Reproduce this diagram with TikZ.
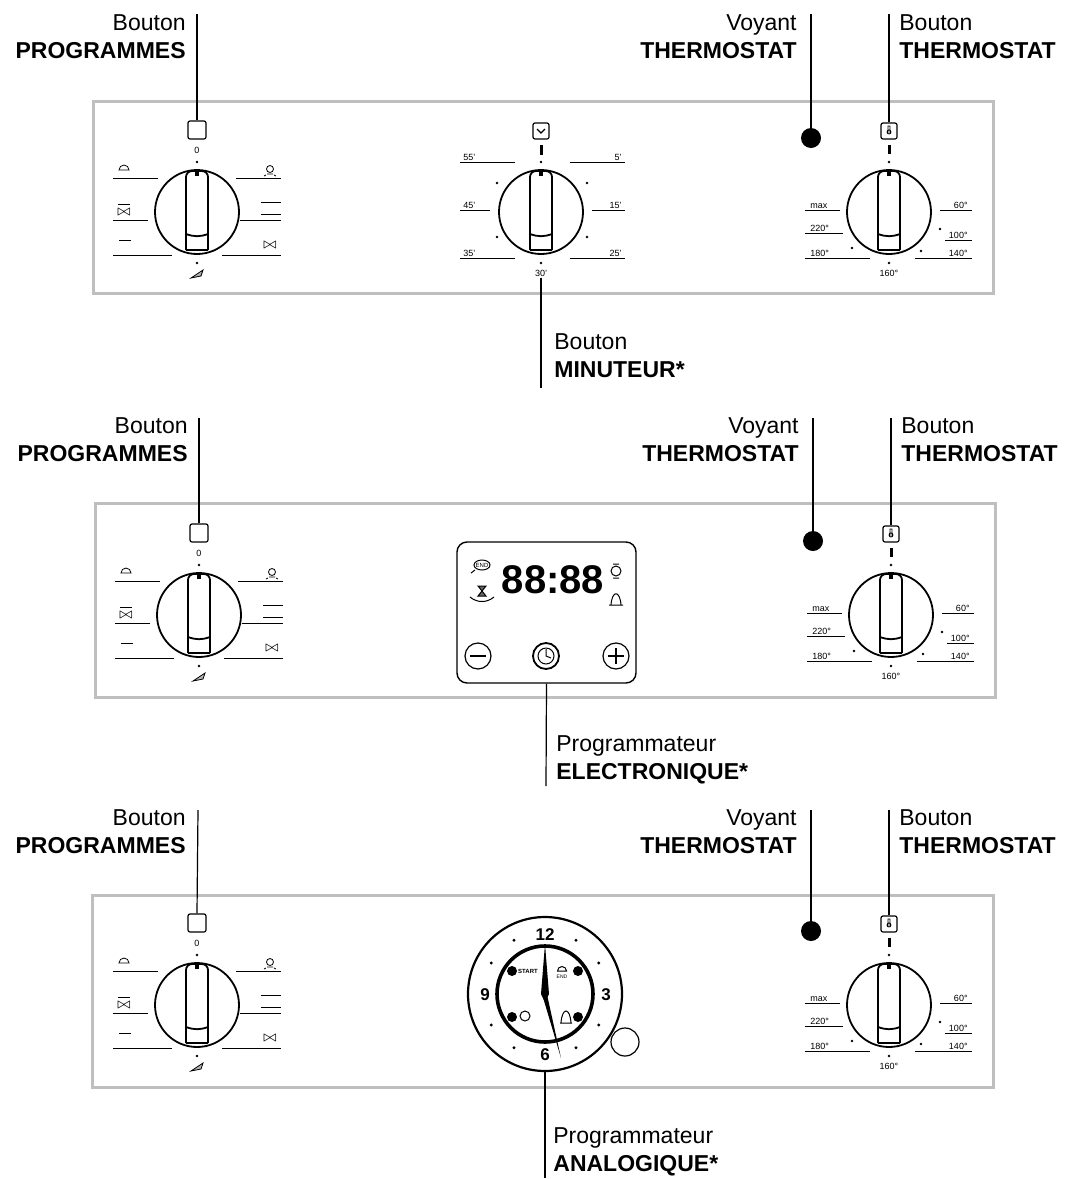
\documentclass[tikz,border=0pt]{standalone}
\usepackage{fontspec}
\setmainfont{Liberation Sans}
\usepackage{tikz}
\usetikzlibrary{positioning}

\tikzset{
  panel/.style={draw=black!25, line width=1.5pt},
  lead/.style={line width=0.6pt},
  knob/.style={circle, draw, line width=0.9pt, minimum size=42pt, inner sep=0pt},
  tick/.style={line width=0.5pt},
  tlab/.style={font=\fontsize{4.5}{5}\selectfont, inner sep=0.5pt},
  lab/.style={font=\fontsize{11.5}{13}\selectfont, inner sep=0pt, align=right},
  labl/.style={font=\fontsize{11.5}{13}\selectfont, inner sep=0pt, align=left},
  dot/.style={circle, fill, inner sep=0pt, minimum size=1.3pt},
}

% knob with its handle: name, x, y
\newcommand\knobat[3]{
  \node[knob] (#1) at (#2,#3) {};
  \draw[line width=0.9pt, rounded corners=3] (#2-11,#3+38) -- (#2-11,#3-41) -- (#2+11,#3-41) -- (#2+11,#3+38);
  \draw[line width=0.9pt] (#2-11,#3+22) to[bend right=20] (#2+11,#3+22);
  \draw[line width=0.6pt] (#2-11,#3+38) -- (#2+11,#3+38);
  \fill (#2-2,#3-41) rectangle (#2+2,#3-36);
}

% programmes knob: prefix, x, y
\newcommand\progpart[3]{
  \begin{scope}[shift={(#2,#3)}]
    \knobat{#1k}{0}{0}
    \node[draw, line width=0.6pt, minimum size=9pt, inner sep=0pt, rounded corners=1pt] (#1sq) at (0,-82) {};
    \node[tlab] at (0,-62) {0};
    \node[dot] at (0,-50) {};
    \node[dot] at (0,51) {};
    % left marks
    \draw[tick] (-84,-34) -- (-39,-34);
    \draw[tick] (-84,8) -- (-49,8);
    \draw[tick] (-84,43) -- (-25,43);
    \draw[tick] (-78,28) -- (-66,28);
    \draw[line width=0.4pt] (-78,-42) arc(180:360:5) -- cycle;
    \draw[line width=0.4pt] (-79,-8) -- (-67,-8);
    \node[font=\fontsize{7}{7}\selectfont, inner sep=0pt] at (-73,0) {$\bowtie$};
    % right marks
    \draw[tick] (39,-34) -- (84,-34);
    \draw[tick] (43,8) -- (84,8);
    \draw[tick] (25,43) -- (84,43);
    \draw[tick] (64,-10) -- (84,-10);
    \draw[tick] (64,2) -- (84,2);
    \draw[line width=0.4pt] (73,-43) circle[radius=3.5];
    \draw[line width=0.4pt] (70,-38) -- (76,-38) (67,-36) -- (69,-37) (79,-36) -- (77,-37);
    \node[font=\fontsize{7}{7}\selectfont, inner sep=0pt] at (73,33) {$\bowtie$};
    \draw[line width=0.4pt, fill=black!30] (-6,66) -- (6,58) -- (4,64) -- cycle;
  \end{scope}
}

% thermostat knob and lamp: prefix, x, y
\newcommand\thermpart[3]{
  \begin{scope}[shift={(#2,#3)}]
    \knobat{#1k}{0}{0}
    \node[draw, line width=0.6pt, minimum size=8pt, inner sep=0pt, rounded corners=1pt] (#1sq) at (0,-81) {};
    \draw[line width=0.4pt] (0,-80) circle[radius=2] (-1,-78) -- (-1,-86) -- (1,-86) -- (1,-78);
    \fill (-1.5,-67) rectangle (1.5,-58);
    \node[dot] at (0,-50) {};
    \node[circle, fill, minimum size=10pt, inner sep=0pt] (#1lamp) at (-78,-74) {};
    \draw[tick] (-84,-2) -- (-49,-2);
    \node[tlab, above right] at (-80,-2) {max};
    \draw[tick] (-84,21) -- (-46,21);
    \node[tlab, above right] at (-80,21) {220°};
    \draw[tick] (-84,46) -- (-19,46);
    \node[tlab, above right] at (-80,46) {180°};
    \draw[tick] (51,-2) -- (83,-2);
    \node[tlab, above left] at (80,-2) {60°};
    \draw[tick] (56,28) -- (83,28);
    \node[tlab, above left] at (80,28) {100°};
    \draw[tick] (26,46) -- (83,46);
    \node[tlab, above left] at (80,46) {140°};
    \node[dot] at (51,17) {};
    \node[dot] at (-37,36) {};
    \node[dot] at (32,39) {};
    \node[dot] at (0,51) {};
    \node[tlab] at (0,61) {160°};
  \end{scope}
}

% callout labels: name, x, y, first line, second line
\newcommand\calloutR[5]{
  \node[lab, anchor=north east] (#1) at (#2,#3) {#4\\[1pt]\textbf{#5}};
}
\newcommand\calloutL[5]{
  \node[labl, anchor=north west] (#1) at (#2,#3) {#4\\[1pt]\textbf{#5}};
}

\begin{document}
\begin{tikzpicture}[x=0.5pt, y=-0.5pt]
  \useasboundingbox (0,0) rectangle (1073,1179);

  % ---------- panel 1: minuteur
  \draw[panel] (93,101) rectangle (993,293);
  \progpart{a}{197}{212}
  \thermpart{c}{889}{212}
  \knobat{bk}{541}{212}
  \node[draw, line width=0.6pt, minimum size=8pt, inner sep=0pt, rounded corners=1pt] (bsq) at (541,131) {};
  \draw[line width=0.6pt] (537,129) -- (541,133) -- (545,129);
  \fill (539.5,145) rectangle (542.5,155);
  \node[dot] at (541,162) {};
  \node[dot] at (541,263) {};
  \node[tlab] (bm) at (541,273) {30'};
  \foreach \xa/\xb/\yy/\tx/\side in {460/515/162/55'/right, 460/490/210/45'/right, 460/515/258/35'/right}
    {\draw[tick] (\xa,\yy) -- (\xb,\yy); \node[tlab, above \side] at (\xa+2,\yy) {\tx};}
  \foreach \xa/\xb/\yy/\tx in {570/625/162/5', 592/625/210/15', 570/625/258/25'}
    {\draw[tick] (\xa,\yy) -- (\xb,\yy); \node[tlab, above left] at (\xb-2,\yy) {\tx};}
  \foreach \px/\py in {497/183, 587/183, 497/237, 587/237} \node[dot] at (\px,\py) {};

  \calloutR{l1}{186}{14}{Bouton}{PROGRAMMES}
  \calloutR{l2}{797}{14}{Voyant}{THERMOSTAT}
  \calloutL{l3}{899}{14}{Bouton}{THERMOSTAT}
  \calloutL{l4}{554}{333}{Bouton}{MINUTEUR*}
  \coordinate (t1) at (197,14);
  \coordinate (t2) at (811,14);
  \coordinate (t3) at (889,14);
  \coordinate (t4) at (541,388);
  \draw[lead] (t1) -- (asq.north);
  \draw[lead] (t2) -- (clamp.north);
  \draw[lead] (t3) -- (csq.north);
  \draw[lead] (bm.south) -- (t4);

  % ---------- panel 2: programmateur electronique
  \draw[panel] (95,503) rectangle (995,697);
  \progpart{d}{199}{615}
  \thermpart{f}{891}{615}
  \node[draw, line width=0.7pt, rounded corners=5pt, minimum width=89.5pt, minimum height=70.5pt, inner sep=0pt] (disp) at (546.5,612.5) {};
  \node[font=\fontsize{20}{20}\bfseries\selectfont, inner sep=0pt] (digits) at (553,580) {88:88};
  \draw[line width=0.5pt] (482,565) ellipse[x radius=8, y radius=5];
  \node[font=\fontsize{3}{3}\selectfont, inner sep=0pt] at (482,565) {END};
  \draw[line width=0.5pt] (471,573) -- (475,570);
  \draw[line width=0.5pt, fill=black!60] (478,586) -- (486,586) -- (478,596) -- (486,596) -- cycle;
  \draw[line width=0.5pt] (470,597) to[bend right=40] (494,597);
  \draw[line width=0.5pt] (616,571) circle[radius=5] (613,564) -- (619,564) (613,578) -- (619,578);
  \draw[line width=0.5pt] (609,605) -- (623,605) (611,605) .. controls (612,590) and (620,590) .. (621,605);
  \node[circle, draw, line width=0.6pt, minimum size=13pt, inner sep=0pt] (minus) at (478,656) {};
  \draw[line width=0.6pt] (470,656) -- (486,656);
  \node[circle, draw, line width=0.9pt, minimum size=13pt, inner sep=0pt] (clk) at (546,656) {};
  \draw[line width=0.5pt] (546,656) circle[radius=8] (546,649) -- (546,656) -- (551,658);
  \node[circle, draw, line width=0.6pt, minimum size=13pt, inner sep=0pt] (plus) at (616,656) {};
  \draw[line width=0.6pt] (608,656) -- (624,656) (616,648) -- (616,664);

  \calloutR{l5}{188}{417}{Bouton}{PROGRAMMES}
  \calloutR{l6}{799}{417}{Voyant}{THERMOSTAT}
  \calloutL{l7}{901}{417}{Bouton}{THERMOSTAT}
  \calloutL{l8}{556}{735}{Programmateur}{ELECTRONIQUE*}
  \coordinate (t5) at (199,418);
  \coordinate (t6) at (813,418);
  \coordinate (t7) at (891,418);
  \coordinate (t8) at (546,786);
  \draw[lead] (t5) -- (dsq.north);
  \draw[lead] (t6) -- (flamp.north);
  \draw[lead] (t7) -- (fsq.north);
  \draw[lead] (disp.south) -- (t8);

  % ---------- panel 3: programmateur analogique
  \draw[panel] (92,895) rectangle (993,1087);
  \progpart{g}{197}{1005}
  \thermpart{i}{889}{1005}
  \node[circle, draw, line width=1.1pt, minimum size=77pt, inner sep=0pt] (dial) at (545,994) {};
  \draw[line width=1.8pt] (545,994) circle[radius=48];
  \node[font=\fontsize{8.5}{8.5}\rmfamily\bfseries\selectfont, inner sep=0pt] at (545,935) {12};
  \node[font=\fontsize{8.5}{8.5}\rmfamily\bfseries\selectfont, inner sep=0pt] at (606,995) {3};
  \node[font=\fontsize{8.5}{8.5}\rmfamily\bfseries\selectfont, inner sep=0pt] at (545,1055) {6};
  \node[font=\fontsize{8.5}{8.5}\rmfamily\bfseries\selectfont, inner sep=0pt] at (485,995) {9};
  \foreach \ang in {30,60,120,150,210,240,300,330}
    \node[dot, minimum size=1.6pt] at ([shift={(\ang:62)}]545,994) {};
  \foreach \px/\py in {512/971, 578/971, 512/1017, 578/1017}
    \node[circle, fill, minimum size=5pt, inner sep=0pt] at (\px,\py) {};
  \node[font=\fontsize{3}{3}\bfseries\selectfont, inner sep=0pt] at (528,971) {START};
  \draw[line width=0.5pt] (557,971) -- (567,971) (557.5,971) arc(180:360:4.5);
  \node[font=\fontsize{2.5}{2.5}\selectfont, inner sep=0pt] at (562,977) {END};
  \draw[line width=0.5pt] (525,1016) circle[radius=5];
  \draw[line width=0.5pt] (560,1023) -- (572,1023) (561,1023) .. controls (562,1007) and (570,1007) .. (571,1023);
  \fill (541,994) -- (545,944) -- (549,994) -- (545,1002) -- cycle;
  \fill (542,994) -- (546,990) -- (561,1058) -- cycle;
  \node[circle, draw, line width=0.6pt, minimum size=14pt, inner sep=0pt] (btn) at (625,1042) {};

  \calloutR{l9}{186}{809}{Bouton}{PROGRAMMES}
  \calloutR{l10}{797}{809}{Voyant}{THERMOSTAT}
  \calloutL{l11}{899}{809}{Bouton}{THERMOSTAT}
  \calloutL{l12}{553}{1127}{Programmateur}{ANALOGIQUE*}
  \coordinate (t9) at (198,810);
  \coordinate (t10) at (811,810);
  \coordinate (t11) at (889,810);
  \coordinate (t12) at (545,1178);
  \draw[lead] (t9) -- (gsq.north);
  \draw[lead] (t10) -- (ilamp.north);
  \draw[lead] (t11) -- (isq.north);
  \draw[lead] (dial.south) -- (t12);
\end{tikzpicture}
\end{document}
